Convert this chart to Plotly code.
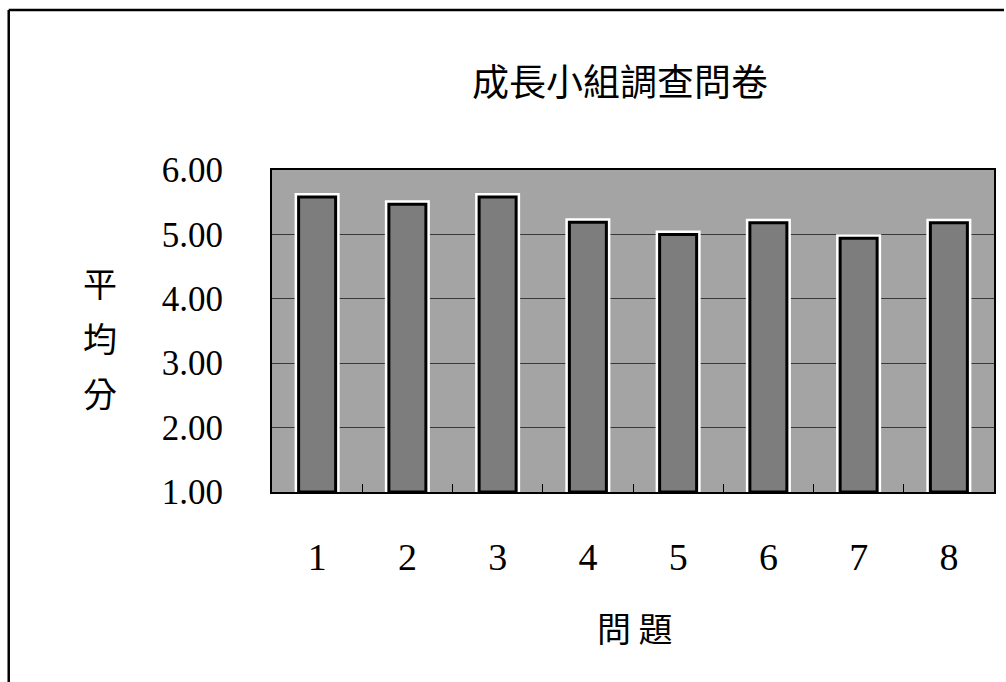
import plotly.graph_objects as go

# Survey data: average score per question
questions = ["1", "2", "3", "4", "5", "6", "7", "8"]
avg_scores = [5.58, 5.47, 5.58, 5.19, 5.00, 5.18, 4.94, 5.18]
y_ticks = [1, 2, 3, 4, 5, 6]
y_tick_text = ["1.00", "2.00", "3.00", "4.00", "5.00", "6.00"]

title_text = "成長小組調查問卷"
x_title = "問 題"
y_title_chars = ["平", "均", "分"]

SERIF = "Liberation Serif, Times New Roman, serif"
CJK = "Noto Sans CJK TC, Noto Sans CJK SC, sans-serif"

bar_heights = [v - 1 for v in avg_scores]

fig = go.Figure()

# white halo behind each bar
fig.add_trace(go.Bar(
    x=questions, y=bar_heights, base=1, width=0.41,
    marker=dict(color="#7d7d7d", line=dict(color="white", width=8)),
    hoverinfo="skip", showlegend=False,
))
# main bars with black outline
fig.add_trace(go.Bar(
    x=questions, y=bar_heights, base=1, width=0.41,
    marker=dict(color="#7d7d7d", line=dict(color="black", width=3)),
    customdata=avg_scores, hovertemplate="%{x}: %{customdata:.2f}<extra></extra>",
    showlegend=False,
))

fig.update_layout(
    width=1006, height=682,
    margin=dict(l=272, r=10, t=170, b=190),
    paper_bgcolor="white",
    plot_bgcolor="#a4a4a4",
    barmode="overlay",
    font=dict(family=SERIF, color="black", size=34),
)

fig.update_xaxes(
    type="category",
    tickfont=dict(family=SERIF, size=38),
    ticks="inside", tickson="boundaries", ticklen=8, tickcolor="black", tickwidth=1,
    ticklabelstandoff=30,
    showline=True, linecolor="black", linewidth=2, mirror=True,
    showgrid=False,
)
fig.update_yaxes(
    range=[1, 6],
    tickvals=y_ticks, ticktext=y_tick_text,
    tickfont=dict(family=SERIF, size=35),
    ticks="", ticklabelstandoff=40,
    showline=True, linecolor="black", linewidth=2, mirror=True,
    showgrid=True, gridcolor="#383838", gridwidth=1,
    zeroline=False,
)

# title
fig.add_annotation(
    text=title_text, xref="paper", yref="paper",
    x=(621 - 272) / 724, y=1 + (170 - 80) / 322,
    showarrow=False, font=dict(family=CJK, size=37, color="black"),
    xanchor="center", yanchor="middle",
)
# x-axis title
fig.add_annotation(
    text=x_title, xref="paper", yref="paper",
    x=(636 - 272) / 724, y=(492 - 627) / 322,
    showarrow=False, font=dict(family=CJK, size=34, color="black"),
    xanchor="center", yanchor="middle",
)
# vertical y-axis title, one character per row
for i, ch in enumerate(y_title_chars):
    ypix = 282 + i * 55
    fig.add_annotation(
        text=ch, xref="paper", yref="paper",
        x=(100 - 272) / 724, y=(492 - ypix) / 322,
        showarrow=False, font=dict(family=CJK, size=34, color="black"),
        xanchor="center", yanchor="middle",
    )

# page frame: top and left edges
x_left = (8 - 272) / 724
x_right = (1006 - 272) / 724
y_top = 1 + (170 - 10) / 322
y_bottom = (492 - 682) / 322
fig.add_shape(type="line", xref="paper", yref="paper",
              x0=x_left, x1=x_right, y0=y_top, y1=y_top,
              line=dict(color="black", width=2.5))
fig.add_shape(type="line", xref="paper", yref="paper",
              x0=x_left, x1=x_left, y0=y_top, y1=y_bottom,
              line=dict(color="black", width=2.5))

fig.write_html("out.html")
